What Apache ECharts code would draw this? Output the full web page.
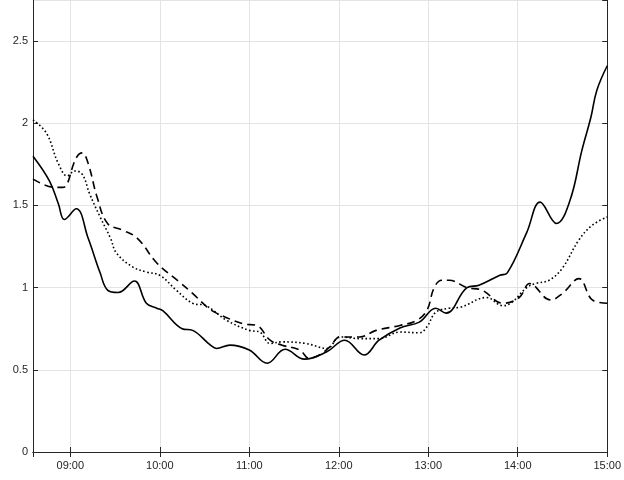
<!DOCTYPE html>
<html>
<head>
<meta charset="utf-8">
<script src="https://cdn.jsdelivr.net/npm/echarts@6/dist/echarts.min.js"></script>
<style>
html,body{margin:0;padding:0;background:#fff;}
#chart{width:624px;height:480px;}
</style>
</head>
<body>
<div id="chart"></div>
<script>
var DAY = '2020-01-01 ';
var yTicks = [0, 0.5, 1, 1.5, 2, 2.5];

var solidTimes = ['08:35','08:46','08:52','08:56','09:04','09:12','09:20','09:25','09:32','09:43','09:51','09:58','10:02','10:15','10:22','10:34','10:38','10:47','11:00','11:12','11:24','11:37','11:52','12:04','12:17','12:27','12:41','12:54','13:05','13:12','13:26','13:34','13:48','13:53','14:06','14:15','14:26','14:35','14:43','14:49','14:53','15:00'];
var solidValues = [1.80,1.65,1.51,1.415,1.48,1.30,1.09,0.985,0.97,1.04,0.905,0.875,0.86,0.75,0.74,0.65,0.63,0.65,0.62,0.54,0.625,0.565,0.61,0.68,0.59,0.68,0.755,0.79,0.875,0.845,1.00,1.015,1.075,1.09,1.335,1.52,1.39,1.53,1.835,2.035,2.2,2.35];

var dashedTimes = ['08:35','08:50','08:55','09:04','09:08','09:12','09:18','09:25','09:35','09:45','09:58','10:13','10:22','10:32','10:38','10:56','11:05','11:14','11:22','11:34','11:40','11:47','11:54','12:01','12:14','12:25','12:41','12:52','12:59','13:04','13:09','13:14','13:26','13:36','13:50','14:01','14:08','14:22','14:30','14:41','14:50','15:00'];
var dashedValues = [1.66,1.61,1.61,1.79,1.82,1.755,1.55,1.39,1.35,1.30,1.15,1.035,0.965,0.88,0.845,0.78,0.77,0.68,0.65,0.62,0.57,0.59,0.64,0.70,0.70,0.74,0.77,0.80,0.86,1.00,1.045,1.045,1.00,0.985,0.905,0.94,1.025,0.925,0.965,1.055,0.925,0.905];

var dottedTimes = ['08:35','08:44','08:52','08:58','09:03','09:08','09:13','09:20','09:27','09:31','09:42','09:51','10:00','10:11','10:22','10:31','10:45','11:00','11:07','11:14','11:22','11:38','11:52','12:01','12:14','12:27','12:41','12:54','12:59','13:05','13:14','13:21','13:39','13:50','13:56','14:06','14:12','14:21','14:30','14:41','14:50','15:00'];
var dottedValues = [2.02,1.94,1.755,1.68,1.71,1.69,1.57,1.43,1.30,1.21,1.125,1.095,1.075,0.985,0.905,0.89,0.80,0.74,0.73,0.66,0.67,0.66,0.63,0.70,0.69,0.69,0.73,0.725,0.76,0.85,0.875,0.88,0.94,0.89,0.91,1.00,1.025,1.045,1.12,1.29,1.38,1.43];

function pairs(times, values) {
  return times.map(function (t, i) { return [DAY + t, values[i]]; });
}

var AX = '#262626';
var LABEL = { color: AX, fontSize: 11, fontFamily: 'Liberation Sans, Arial, sans-serif' };

var chart = echarts.init(document.getElementById('chart'), null, { renderer: 'canvas' });
chart.setOption({
  animation: false,
  backgroundColor: '#fff',
  grid: { left: 33, right: 16, top: -1, bottom: 28, containLabel: false },
  xAxis: [{
    type: 'time',
    min: DAY + '08:35',
    max: DAY + '15:00',
    minInterval: 3600000,
    maxInterval: 3600000,
    axisLine: { show: true, lineStyle: { color: AX, width: 1 } },
    axisTick: { show: true, inside: true, length: 5, lineStyle: { color: AX } },
    axisLabel: Object.assign({ formatter: '{HH}:{mm}', margin: 8, showMinLabel: false, showMaxLabel: true, hideOverlap: false, alignMaxLabel: 'center' }, LABEL),
    splitLine: { show: true, lineStyle: { color: '#e3e3e3', width: 1 } },
    minorTick: { show: false }
  }, {
    type: 'time',
    position: 'top',
    min: DAY + '08:35',
    max: DAY + '15:00',
    minInterval: 3600000,
    maxInterval: 3600000,
    axisLine: { show: true, lineStyle: { color: AX, width: 1 } },
    axisTick: { show: true, inside: true, length: 5, lineStyle: { color: AX } },
    axisLabel: { show: false },
    splitLine: { show: false }
  }],
  yAxis: [{
    type: 'value',
    min: 0,
    max: 2.75,
    interval: 0.5,
    axisLine: { show: true, lineStyle: { color: AX, width: 1 } },
    axisTick: { show: true, inside: true, length: 5, lineStyle: { color: AX } },
    axisLabel: Object.assign({ margin: 5, showMaxLabel: false, formatter: function (v) { return yTicks.indexOf(v) >= 0 ? String(v) : ''; } }, LABEL),
    splitLine: { show: true, lineStyle: { color: '#e3e3e3', width: 1 } }
  }, {
    type: 'value',
    position: 'right',
    min: 0,
    max: 2.75,
    interval: 0.5,
    axisLine: { show: true, lineStyle: { color: AX, width: 1 } },
    axisTick: { show: true, inside: true, length: 5, lineStyle: { color: AX } },
    axisLabel: { show: false },
    splitLine: { show: false }
  }],
  series: [{
    type: 'line', name: 'solid', data: pairs(solidTimes, solidValues), smooth: 0.4,
    showSymbol: false, symbol: 'none',
    lineStyle: { color: '#000', width: 1.6, type: 'solid' }
  }, {
    type: 'line', name: 'dashed', data: pairs(dashedTimes, dashedValues), smooth: 0.4,
    showSymbol: false, symbol: 'none',
    lineStyle: { color: '#000', width: 1.6, type: [8, 5] }
  }, {
    type: 'line', name: 'dotted', data: pairs(dottedTimes, dottedValues), smooth: 0.4,
    showSymbol: false, symbol: 'none',
    lineStyle: { color: '#000', width: 1.6, type: [1.6, 2.4] }
  }]
});
</script>
</body>
</html>
